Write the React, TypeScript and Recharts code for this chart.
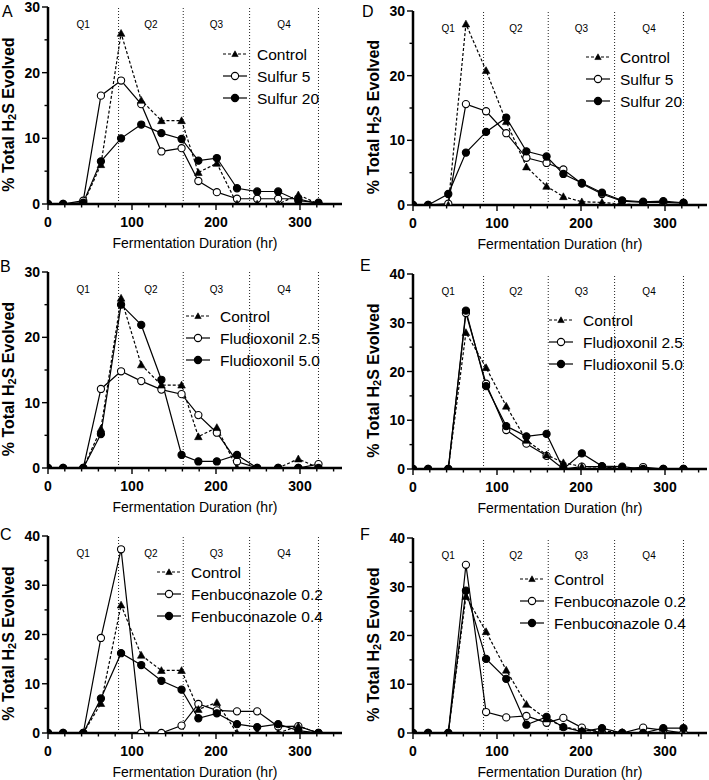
import React from 'react';
import {
  LineChart, Line, XAxis, YAxis, ReferenceLine, ReferenceArea, Legend,
} from 'recharts';

const FONT = '"Liberation Sans", Arial, Helvetica, sans-serif';

// Sampling times (hr)
const TIME_HR = [0, 18, 42, 63, 87, 111, 135, 159, 179, 201, 225, 249, 274, 298, 322];

// Quarter boundaries and labels
const Q_BOUNDS = [0, 84, 161, 240, 322];
const Q_LABELS = ['Q1', 'Q2', 'Q3', 'Q4'];

const X_TICKS = [0, 20, 40, 60, 80, 100, 120, 140, 160, 180, 200, 220, 240, 260, 280, 300, 320, 340];
const Y_TICKS_30 = [0, 5, 10, 15, 20, 25, 30];
const Y_TICKS_40 = [0, 5, 10, 15, 20, 25, 30, 35, 40];

// Left column (A, B, C)
const CONTROL_LEFT = [0, 0, 0, 6, 26, 15.8, 12.7, 12.7, 4.8, 6.2, 0, 0, 0, 1.4, 0];
const SULFUR5_A = [0, 0, 0.5, 16.5, 18.8, 15.2, 8, 8.5, 3.5, 1.8, 0.8, 0.8, 0.8, 0.8, 0];
const SULFUR20_A = [0, 0, 0.2, 6.5, 10, 12.1, 10.8, 9.9, 6.6, 7, 2.4, 1.9, 1.9, 0.5, 0.2];
const FLUD25_B = [0, 0, 0, 12.1, 14.8, 13.3, 12, 11.3, 8.1, 5.4, 1.0, 0, 0, 0, 0.6];
const FLUD50_B = [0, 0, 0, 5.2, 25, 21.9, 13.5, 2, 1, 1, 2, 0, 0, 0, 0];
const FEN02_C = [0, 0, 0, 19.3, 37.3, 0, 0, 1.5, 5.9, 4.6, 4.4, 4.4, 1.3, 1.4, 0];
const FEN04_C = [0, 0, 0, 7, 16.2, 13.8, 10.6, 8.8, 3, 4, 1.8, 1.2, 1.8, 0.5, 0];

// Right column (D, E, F)
const CONTROL_RIGHT = [0, 0, 0, 28, 20.8, 12.9, 5.9, 2.9, 1.3, 0.5, 0.4, 0.15, 0, 0, 0];
const SULFUR5_D = [0, 0, 0.2, 15.6, 14.5, 11.1, 7.3, 6.5, 5.5, 3.3, 1.7, 0.6, 0.4, 0.4, 0.3];
const SULFUR20_D = [0, 0, 1.7, 8.1, 11.3, 13.5, 8.3, 7.5, 4.8, 3.4, 1.9, 0.7, 0.5, 0.6, 0.35];
const FLUD25_E = [0, 0, 0, 32, 17.5, 8, 5.2, 2.7, 0, 0.5, 0.5, 0, 0.4, 0, 0];
const FLUD50_E = [0, 0, 0, 32.5, 17, 8.8, 6.7, 7.2, 0, 3.2, 0.6, 0.5, 0, 0, 0];
const FEN02_F = [0, 0, 0, 34.5, 4.3, 3.2, 3.5, 2.1, 3.1, 1.1, 0, 0, 1.1, 0.6, 0];
const FEN04_F = [0, 0, 0, 29.2, 15.2, 11.1, 1.7, 3.3, 1.2, 0.3, 1.0, 0, 0, 1.0, 1.0];

const NAMES_SULFUR = ['Control', 'Sulfur 5', 'Sulfur 20'];
const NAMES_FLUD = ['Control', 'Fludioxonil 2.5', 'Fludioxonil 5.0'];
const NAMES_FEN = ['Control', 'Fenbuconazole 0.2', 'Fenbuconazole 0.4'];

const X_TITLE = 'Fermentation Duration (hr)';

const PANELS = [
  { letter: 'A', letterX: 2, letterY: 18, left: 0, width: 350, yAxisW: 48, plotTop: 7, plotBottom: 204, chartH: 255, yMax: 30, yTicks: Y_TICKS_30, names: NAMES_SULFUR, values: [CONTROL_LEFT, SULFUR5_A, SULFUR20_A], legX: 223, legY: 54 },
  { letter: 'B', letterX: 0, letterY: 273, left: 0, width: 350, yAxisW: 48, plotTop: 272, plotBottom: 468, chartH: 254, yMax: 30, yTicks: Y_TICKS_30, names: NAMES_FLUD, values: [CONTROL_LEFT, FLUD25_B, FLUD50_B], legX: 186, legY: 51 },
  { letter: 'C', letterX: 0, letterY: 541, left: 0, width: 350, yAxisW: 48, plotTop: 536, plotBottom: 733, chartH: 251, yMax: 40, yTicks: Y_TICKS_40, names: NAMES_FEN, values: [CONTROL_LEFT, FEN02_C, FEN04_C], legX: 157, legY: 43 },
  { letter: 'D', letterX: 362, letterY: 18, left: 355, width: 354, yAxisW: 58, plotTop: 11, plotBottom: 205, chartH: 252, yMax: 30, yTicks: Y_TICKS_30, names: NAMES_SULFUR, values: [CONTROL_RIGHT, SULFUR5_D, SULFUR20_D], legX: 231, legY: 53 },
  { letter: 'E', letterX: 360, letterY: 272, left: 355, width: 354, yAxisW: 58, plotTop: 274, plotBottom: 469, chartH: 253, yMax: 40, yTicks: Y_TICKS_40, names: NAMES_FLUD, values: [CONTROL_RIGHT, FLUD25_E, FLUD50_E], legX: 194, legY: 53 },
  { letter: 'F', letterX: 360, letterY: 541, left: 355, width: 354, yAxisW: 58, plotTop: 538, plotBottom: 733, chartH: 249, yMax: 40, yTicks: Y_TICKS_40, names: NAMES_FEN, values: [CONTROL_RIGHT, FEN02_F, FEN04_F], legX: 165, legY: 48 },
];

const PLOT_W = 294;
const ROW_GAP = 22;

function TriangleMark({ cx, cy, s = 3.8 }: any) {
  if (cx == null || cy == null) return null;
  return <path d={`M${cx},${cy - s} L${cx + s},${cy + s * 0.8} L${cx - s},${cy + s * 0.8} Z`} fill="#000" stroke="#000" strokeWidth={0.6} />;
}
function CircleMark({ cx, cy, open }: any) {
  if (cx == null || cy == null) return null;
  return <circle cx={cx} cy={cy} r={3.6} fill={open ? '#fff' : '#000'} stroke="#000" strokeWidth={1.1} />;
}

const triDot = (p: any) => <g key={`t${p.index}`}><TriangleMark cx={p.cx} cy={p.cy} /></g>;
const openDot = (p: any) => <g key={`o${p.index}`}><CircleMark cx={p.cx} cy={p.cy} open /></g>;
const fillDot = (p: any) => <g key={`f${p.index}`}><CircleMark cx={p.cx} cy={p.cy} /></g>;

function XTick(props: any) {
  const { x, y, payload } = props;
  const v = payload.value;
  const major = v % 100 === 0;
  return (
    <g>
      <line x1={x} x2={x} y1={y} y2={y + (major ? 6 : 3.5)} stroke="#000" strokeWidth={1.4} />
      {major && (
        <text x={x} y={y + 18} textAnchor="middle" dominantBaseline="central" fontFamily={FONT} fontWeight="bold" fontSize={14} fill="#000">{v}</text>
      )}
    </g>
  );
}
function YTick(props: any) {
  const { x, y, payload } = props;
  const v = payload.value;
  const major = v % 10 === 0;
  return (
    <g>
      <line x1={x - (major ? 6 : 3.5)} x2={x} y1={y} y2={y} stroke="#000" strokeWidth={1.4} />
      {major && (
        <text x={x - 8} y={y} textAnchor="end" dominantBaseline="central" fontFamily={FONT} fontWeight="bold" fontSize={14} fill="#000">{v}</text>
      )}
    </g>
  );
}

function makeLegend(names: string[]) {
  return () => (
    <svg width={170} height={66} style={{ overflow: 'visible', display: 'block' }}>
      {names.map((n, i) => {
        const y = 8 + i * ROW_GAP;
        return (
          <g key={n}>
            <line x1={0} x2={24} y1={y} y2={y} stroke="#000" strokeWidth={1.2} strokeDasharray={i === 0 ? '3 2' : undefined} />
            {i === 0 ? <TriangleMark cx={12} cy={y} s={3.2} /> : <CircleMark cx={12} cy={y} open={i === 1} />}
            <text x={34} y={y} dominantBaseline="central" fontFamily={FONT} fontSize={15.5} fill="#000">{n}</text>
          </g>
        );
      })}
    </svg>
  );
}

function Panel({ cfg }: any) {
  const data = TIME_HR.map((t, i) => ({ t, c: cfg.values[0][i], a: cfg.values[1][i], b: cfg.values[2][i] }));
  const plotH = cfg.plotBottom - cfg.plotTop;
  const chartTop = cfg.plotTop - 7;
  const xAxisH = cfg.chartH - 7 - plotH;
  const rightMargin = cfg.width - cfg.yAxisW - PLOT_W;
  const yLabel = () => {
    const cx = cfg.yAxisW - 40;
    const cy = 7 + plotH / 2 + 9;
    return (
      <text x={cx} y={cy} transform={`rotate(-90 ${cx} ${cy})`} textAnchor="middle" dominantBaseline="central" fontFamily={FONT} fontWeight="bold" fontSize={16} fill="#000">
        % Total H<tspan fontSize={11} dy={4}>2</tspan><tspan dy={-4}>S Evolved</tspan>
      </text>
    );
  };
  const xLabel = () => (
    <text x={cfg.yAxisW + PLOT_W / 2} y={7 + plotH + 39} textAnchor="middle" dominantBaseline="central" fontFamily={FONT} fontSize={14} fill="#000">{X_TITLE}</text>
  );
  return (
    <div style={{ position: 'absolute', left: cfg.left, top: chartTop, width: cfg.width, height: cfg.chartH }}>
      <LineChart width={cfg.width} height={cfg.chartH} data={data} margin={{ top: 7, right: rightMargin, left: 0, bottom: 0 }}>
        <XAxis dataKey="t" type="number" domain={[0, 350]} ticks={X_TICKS} interval={0} tick={(p: any) => <XTick {...p} />} tickSize={0} tickMargin={0} tickLine={false} axisLine={{ stroke: '#000', strokeWidth: 2.5 }} height={xAxisH} label={xLabel} allowDataOverflow />
        <YAxis type="number" domain={[0, cfg.yMax]} ticks={cfg.yTicks} interval={0} tick={(p: any) => <YTick {...p} />} tickSize={0} tickMargin={0} tickLine={false} axisLine={{ stroke: '#000', strokeWidth: 2.5 }} width={cfg.yAxisW} label={yLabel} allowDataOverflow />
        {Q_LABELS.map((q, i) => (
          <ReferenceArea key={q} x1={Q_BOUNDS[i]} x2={Q_BOUNDS[i + 1]} fill="#fff" fillOpacity={0} stroke="none" label={{ value: q, position: 'insideTop', offset: 14, fontSize: 10, fill: '#000', fontFamily: FONT }} />
        ))}
        {Q_BOUNDS.slice(1).map((b) => (
          <ReferenceLine key={b} x={b} stroke="#222" strokeWidth={1} strokeDasharray="1 2" />
        ))}
        <Legend layout="vertical" align="center" verticalAlign="middle" content={makeLegend(cfg.names)} wrapperStyle={{ left: cfg.legX, top: cfg.legY - 8, width: 170, height: 66 }} />
        <Line type="linear" dataKey="a" name={cfg.names[1]} stroke="#000" strokeWidth={1.2} dot={openDot} activeDot={false} isAnimationActive={false} />
        <Line type="linear" dataKey="b" name={cfg.names[2]} stroke="#000" strokeWidth={1.2} dot={fillDot} activeDot={false} isAnimationActive={false} />
        <Line type="linear" dataKey="c" name={cfg.names[0]} stroke="#000" strokeWidth={1.2} strokeDasharray="3 2" dot={triDot} activeDot={false} isAnimationActive={false} />
      </LineChart>
    </div>
  );
}

export default function App() {
  return (
    <div style={{ position: 'absolute', left: 0, top: 0, width: 709, height: 780, background: '#fff', overflow: 'hidden', fontFamily: FONT }}>
      {PANELS.map((cfg) => (
        <Panel key={cfg.letter} cfg={cfg} />
      ))}
      {PANELS.map((cfg) => (
        <div key={'L' + cfg.letter} style={{ position: 'absolute', left: cfg.letterX, top: cfg.letterY - 15, fontSize: 16, lineHeight: '18px', fontFamily: FONT, color: '#000' }}>{cfg.letter}</div>
      ))}
    </div>
  );
}
